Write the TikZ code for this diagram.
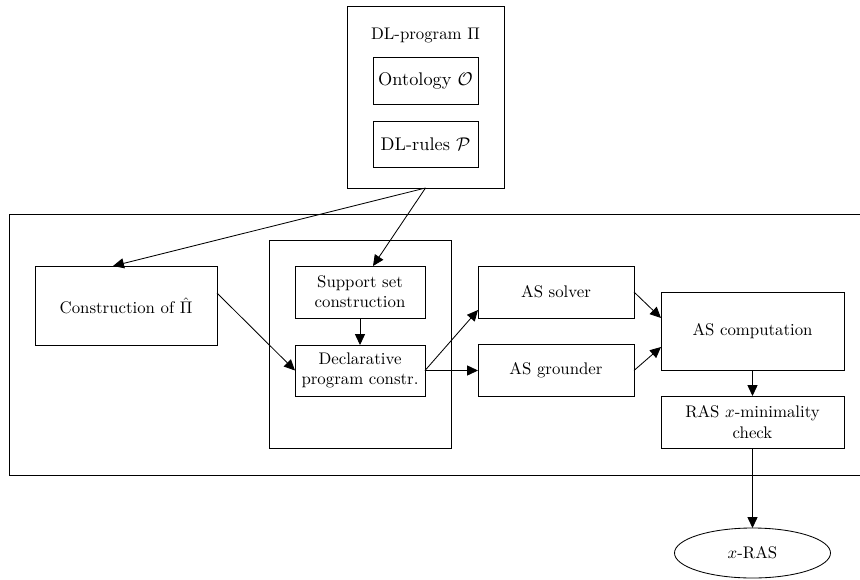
\documentclass[tikz,border=0pt]{standalone}
\usetikzlibrary{arrows.meta,shapes.geometric}
\def\u{0.595pt}
\begin{document}
\begin{tikzpicture}[x=0.595pt,y=-0.595pt,
  box/.style={draw,line width=0.5pt,inner sep=0pt,outer sep=0pt,align=center},
  arr/.style={line width=0.5pt,-{Triangle[length=6.5pt,width=6pt]}},
  big/.style={font=\fontsize{10.9}{13}\selectfont}]
\useasboundingbox (0,0) rectangle (860,579);
% outer frame
\draw[line width=0.5pt] (880,214) -- (9,214) -- (9,475) -- (880,475);
% top program box
\node[box,minimum width=157*\u,minimum height=182*\u] (top) at (425.5,97) {};
\node (toplabel) at (425.5,35) {DL-program $\Pi$};
\node[box,big,minimum width=105*\u,minimum height=47*\u] (ont) at (425.5,80.5) {Ontology $\mathcal{O}$};
\node[box,big,minimum width=105*\u,minimum height=46*\u] (rules) at (425.5,144) {DL-rules $\mathcal{P}$};
% construction
\node[box,minimum width=182*\u,minimum height=79*\u] (con) at (126,305.5) {Construction of $\hat{\Pi}$};
% middle group
\node[box,minimum width=182*\u,minimum height=208*\u] (grp) at (360,344) {};
\node[box,minimum width=130*\u,minimum height=52*\u] (sup) at (360,292) {Support set\\construction};
\node[box,minimum width=130*\u,minimum height=51*\u] (dec) at (360,370.5) {Declarative\\program constr.};
% solver / grounder
\node[box,minimum width=156*\u,minimum height=52*\u] (sol) at (556,292) {AS solver};
\node[box,minimum width=156*\u,minimum height=52*\u] (gro) at (556,370.5) {AS grounder};
% computation
\node[box,minimum width=183*\u,minimum height=78*\u] (comp) at (752.5,331) {AS computation};
\node[box,minimum width=183*\u,minimum height=52*\u] (ras) at (752.5,422) {RAS $x$-minimality\\check};
\node[draw,ellipse,line width=0.5pt,inner sep=0pt,outer sep=0pt,minimum width=156*\u,minimum height=50*\u] (xras) at (752.5,553) {$x$-RAS};
% connectors
\draw[arr] (top.south) -- ([xshift=-13*\u]con.north);
\draw[arr] (top.south) -- ([xshift=13*\u]sup.north);
\draw[arr] (sup.south) -- (dec.north);
\draw[arr] ([yshift=12.5*\u]con.east) -- (dec.west);
\draw[arr] (dec.east) -- ([yshift=-18*\u]sol.west);
\draw[arr] (dec.east) -- (gro.west);
\draw[arr] (sol.east) -- ([yshift=13*\u]comp.west);
\draw[arr] (gro.east) -- ([yshift=-16*\u]comp.west);
\draw[arr] (comp.south) -- (ras.north);
\draw[arr] (ras.south) -- (xras.north);
\end{tikzpicture}
\end{document}
